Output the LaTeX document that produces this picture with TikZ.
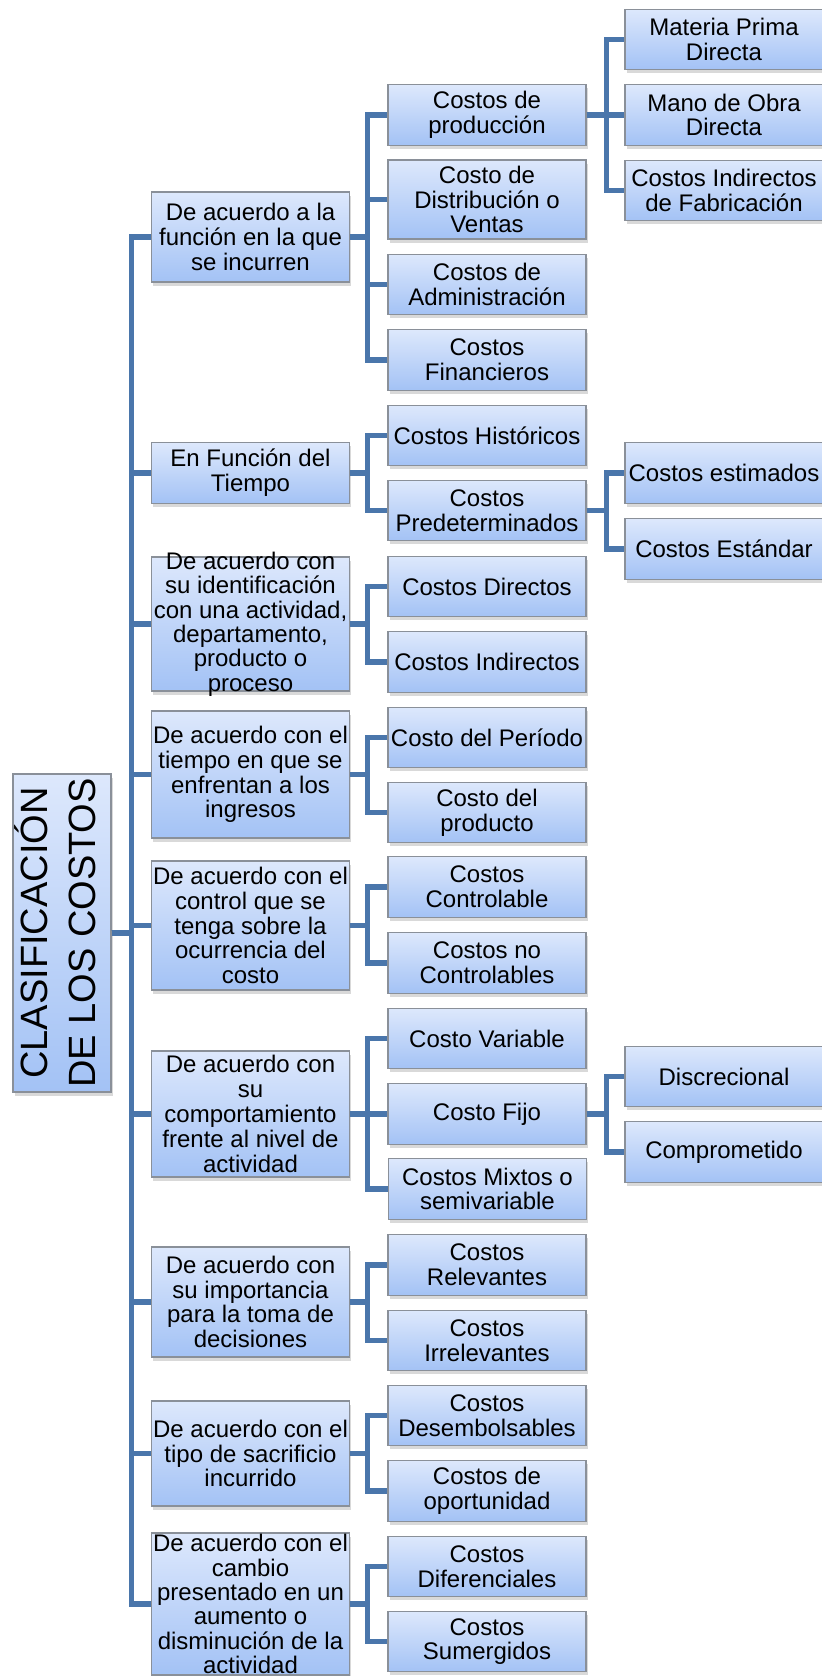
\documentclass[tikz,border=0pt]{standalone}
\usepackage{fontspec}
\setmainfont{Liberation Sans}
\usepackage{graphicx}
\usetikzlibrary{shadows}
\definecolor{boxtop}{HTML}{DDE8FC}
\definecolor{boxbot}{HTML}{A3C2F5}
\definecolor{boxline}{HTML}{8A9099}
\definecolor{linkblue}{HTML}{4A76AB}

\begin{document}
\begin{tikzpicture}[x=0.5pt, y=-0.5pt,
    catbox/.style={draw=boxline, line width=0.6pt, top color=boxtop, bottom color=boxbot,
        minimum width=99pt, minimum height=30.25pt, inner xsep=1pt, inner ysep=1pt,
        align=center, font=\fontsize{12}{12.4}\selectfont,
        drop shadow={shadow xshift=0.8pt, shadow yshift=-1.8pt, opacity=0.3}},
    boxtext/.style={align=center, inner sep=0pt, font=\fontsize{12}{12.2}\selectfont},
    link/.style={draw=linkblue, line width=2.6pt}]
    \useasboundingbox (0,0) rectangle (822,1676);

    % Root
    \node[catbox, minimum width=49pt, minimum height=159pt, inner sep=0pt,
        font=\fontsize{19}{24}\selectfont] (root) at (62,933)
        {\rotatebox{90}{\begin{tabular}{@{}c@{}}CLASIFICACIÓN\\DE LOS COSTOS\end{tabular}}};

    % Criteria
    \node[catbox, minimum height=45pt] (f1) at (250.5,237) {De acuerdo a la\\función en la que\\se incurren};
    \node[catbox] (f2) at (250.5,473) {En Función del\\Tiempo};
    \node[catbox, minimum height=67pt] (f3) at (250.5,624) {};
    \node[boxtext] (f3t) at (f3.center) {De acuerdo con\\su identificación\\con una actividad,\\departamento,\\producto o\\proceso};
    \node[catbox, minimum height=63.5pt] (f4) at (250.5,774.5) {De acuerdo con el\\tiempo en que se\\enfrentan a los\\ingresos};
    \node[catbox, minimum height=64.5pt] (f5) at (250.5,925.5) {De acuerdo con el\\control que se\\tenga sobre la\\ocurrencia del\\costo};
    \node[catbox, minimum height=63pt] (f6) at (250.5,1114) {De acuerdo con\\su\\comportamiento\\frente al nivel de\\actividad};
    \node[catbox, minimum height=55pt] (f7) at (250.5,1302) {De acuerdo con\\su importancia\\para la toma de\\decisiones};
    \node[catbox, minimum height=52.5pt] (f8) at (250.5,1453.5) {De acuerdo con el\\tipo de sacrificio\\incurrido};
    \node[catbox, minimum height=71pt] (f9) at (250.5,1604) {};
    \node[boxtext] (f9t) at (f9.center) {De acuerdo con el\\cambio\\presentado en un\\aumento o\\disminución de la\\actividad};

    % Types - function
    \node[catbox] (p1) at (487,115) {Costos de\\producción};
    \node[catbox, minimum height=39.5pt] (p2) at (487,199.5) {Costo de\\Distribución o\\Ventas};
    \node[catbox] (p3) at (487,284.5) {Costos de\\Administración};
    \node[catbox] (p4) at (487,360) {Costos\\Financieros};

    % Types - time
    \node[catbox] (t1) at (487,435.5) {Costos Históricos};
    \node[catbox] (t2) at (487,510.5) {Costos\\Predeterminados};

    % Types - identification
    \node[catbox] (i1) at (487,586.5) {Costos Directos};
    \node[catbox] (i2) at (487,662) {Costos Indirectos};

    % Types - income
    \node[catbox] (e1) at (487,737.5) {Costo del Período};
    \node[catbox] (e2) at (487,812.5) {Costo del\\producto};

    % Types - control
    \node[catbox] (c1) at (487,887) {Costos\\Controlable};
    \node[catbox] (c2) at (487,963) {Costos no\\Controlables};

    % Types - behaviour
    \node[catbox] (b1) at (487,1038.5) {Costo Variable};
    \node[catbox] (b2) at (487,1114) {Costo Fijo};
    \node[catbox] (b3) at (487.5,1189) {Costos Mixtos o\\semivariable};

    % Types - decisions
    \node[catbox] (r1) at (487,1265) {Costos\\Relevantes};
    \node[catbox] (r2) at (487,1340.5) {Costos\\Irrelevantes};

    % Types - sacrifice
    \node[catbox] (s1) at (487,1415.5) {Costos\\Desembolsables};
    \node[catbox] (s2) at (487,1491) {Costos de\\oportunidad};

    % Types - change
    \node[catbox] (d1) at (487,1566.5) {Costos\\Diferenciales};
    \node[catbox] (d2) at (487,1641.5) {Costos\\Sumergidos};

    % Sub-types
    \node[catbox] (m1) at (724,39.5) {Materia Prima\\Directa};
    \node[catbox] (m2) at (724,115) {Mano de Obra\\Directa};
    \node[catbox] (m3) at (724,190.5) {Costos Indirectos\\de Fabricación};
    \node[catbox] (t3) at (724,473) {Costos estimados};
    \node[catbox] (t4) at (724,549) {Costos Estándar};
    \node[catbox] (b4) at (724,1076.5) {Discrecional};
    \node[catbox] (b5) at (724,1152) {Comprometido};

    % Root links
    \draw[link] (root.east) -- +(20,0) |- (f1.west);
    \draw[link] (root.east) -- +(20,0) |- (f2.west);
    \draw[link] (root.east) -- +(20,0) |- (f3.west);
    \draw[link] (root.east) -- +(20,0) |- (f4.west);
    \draw[link] (root.east) -- +(20,0) |- (f5.west);
    \draw[link] (root.east) -- +(20,0) |- (f6.west);
    \draw[link] (root.east) -- +(20,0) |- (f7.west);
    \draw[link] (root.east) -- +(20,0) |- (f8.west);
    \draw[link] (root.east) -- +(20,0) |- (f9.west);

    % Criteria links
    \draw[link] (f1.east) -- +(17,0) |- (p1.west);
    \draw[link] (f1.east) -- +(17,0) |- (p2.west);
    \draw[link] (f1.east) -- +(17,0) |- (p3.west);
    \draw[link] (f1.east) -- +(17,0) |- (p4.west);

    \draw[link] (f2.east) -- +(17,0) |- (t1.west);
    \draw[link] (f2.east) -- +(17,0) |- (t2.west);

    \draw[link] (f3.east) -- +(17,0) |- (i1.west);
    \draw[link] (f3.east) -- +(17,0) |- (i2.west);

    \draw[link] (f4.east) -- +(17,0) |- (e1.west);
    \draw[link] (f4.east) -- +(17,0) |- (e2.west);

    \draw[link] (f5.east) -- +(17,0) |- (c1.west);
    \draw[link] (f5.east) -- +(17,0) |- (c2.west);

    \draw[link] (f6.east) -- +(17,0) |- (b1.west);
    \draw[link] (f6.east) -- +(17,0) |- (b2.west);
    \draw[link] (f6.east) -- +(17,0) |- (b3.west);

    \draw[link] (f7.east) -- +(17,0) |- (r1.west);
    \draw[link] (f7.east) -- +(17,0) |- (r2.west);

    \draw[link] (f8.east) -- +(17,0) |- (s1.west);
    \draw[link] (f8.east) -- +(17,0) |- (s2.west);

    \draw[link] (f9.east) -- +(17,0) |- (d1.west);
    \draw[link] (f9.east) -- +(17,0) |- (d2.west);

    % Sub-type links
    \draw[link] (p1.east) -- +(20,0) |- (m1.west);
    \draw[link] (p1.east) -- +(20,0) |- (m2.west);
    \draw[link] (p1.east) -- +(20,0) |- (m3.west);

    \draw[link] (t2.east) -- +(20,0) |- (t3.west);
    \draw[link] (t2.east) -- +(20,0) |- (t4.west);

    \draw[link] (b2.east) -- +(20,0) |- (b4.west);
    \draw[link] (b2.east) -- +(20,0) |- (b5.west);
\end{tikzpicture}
\end{document}
